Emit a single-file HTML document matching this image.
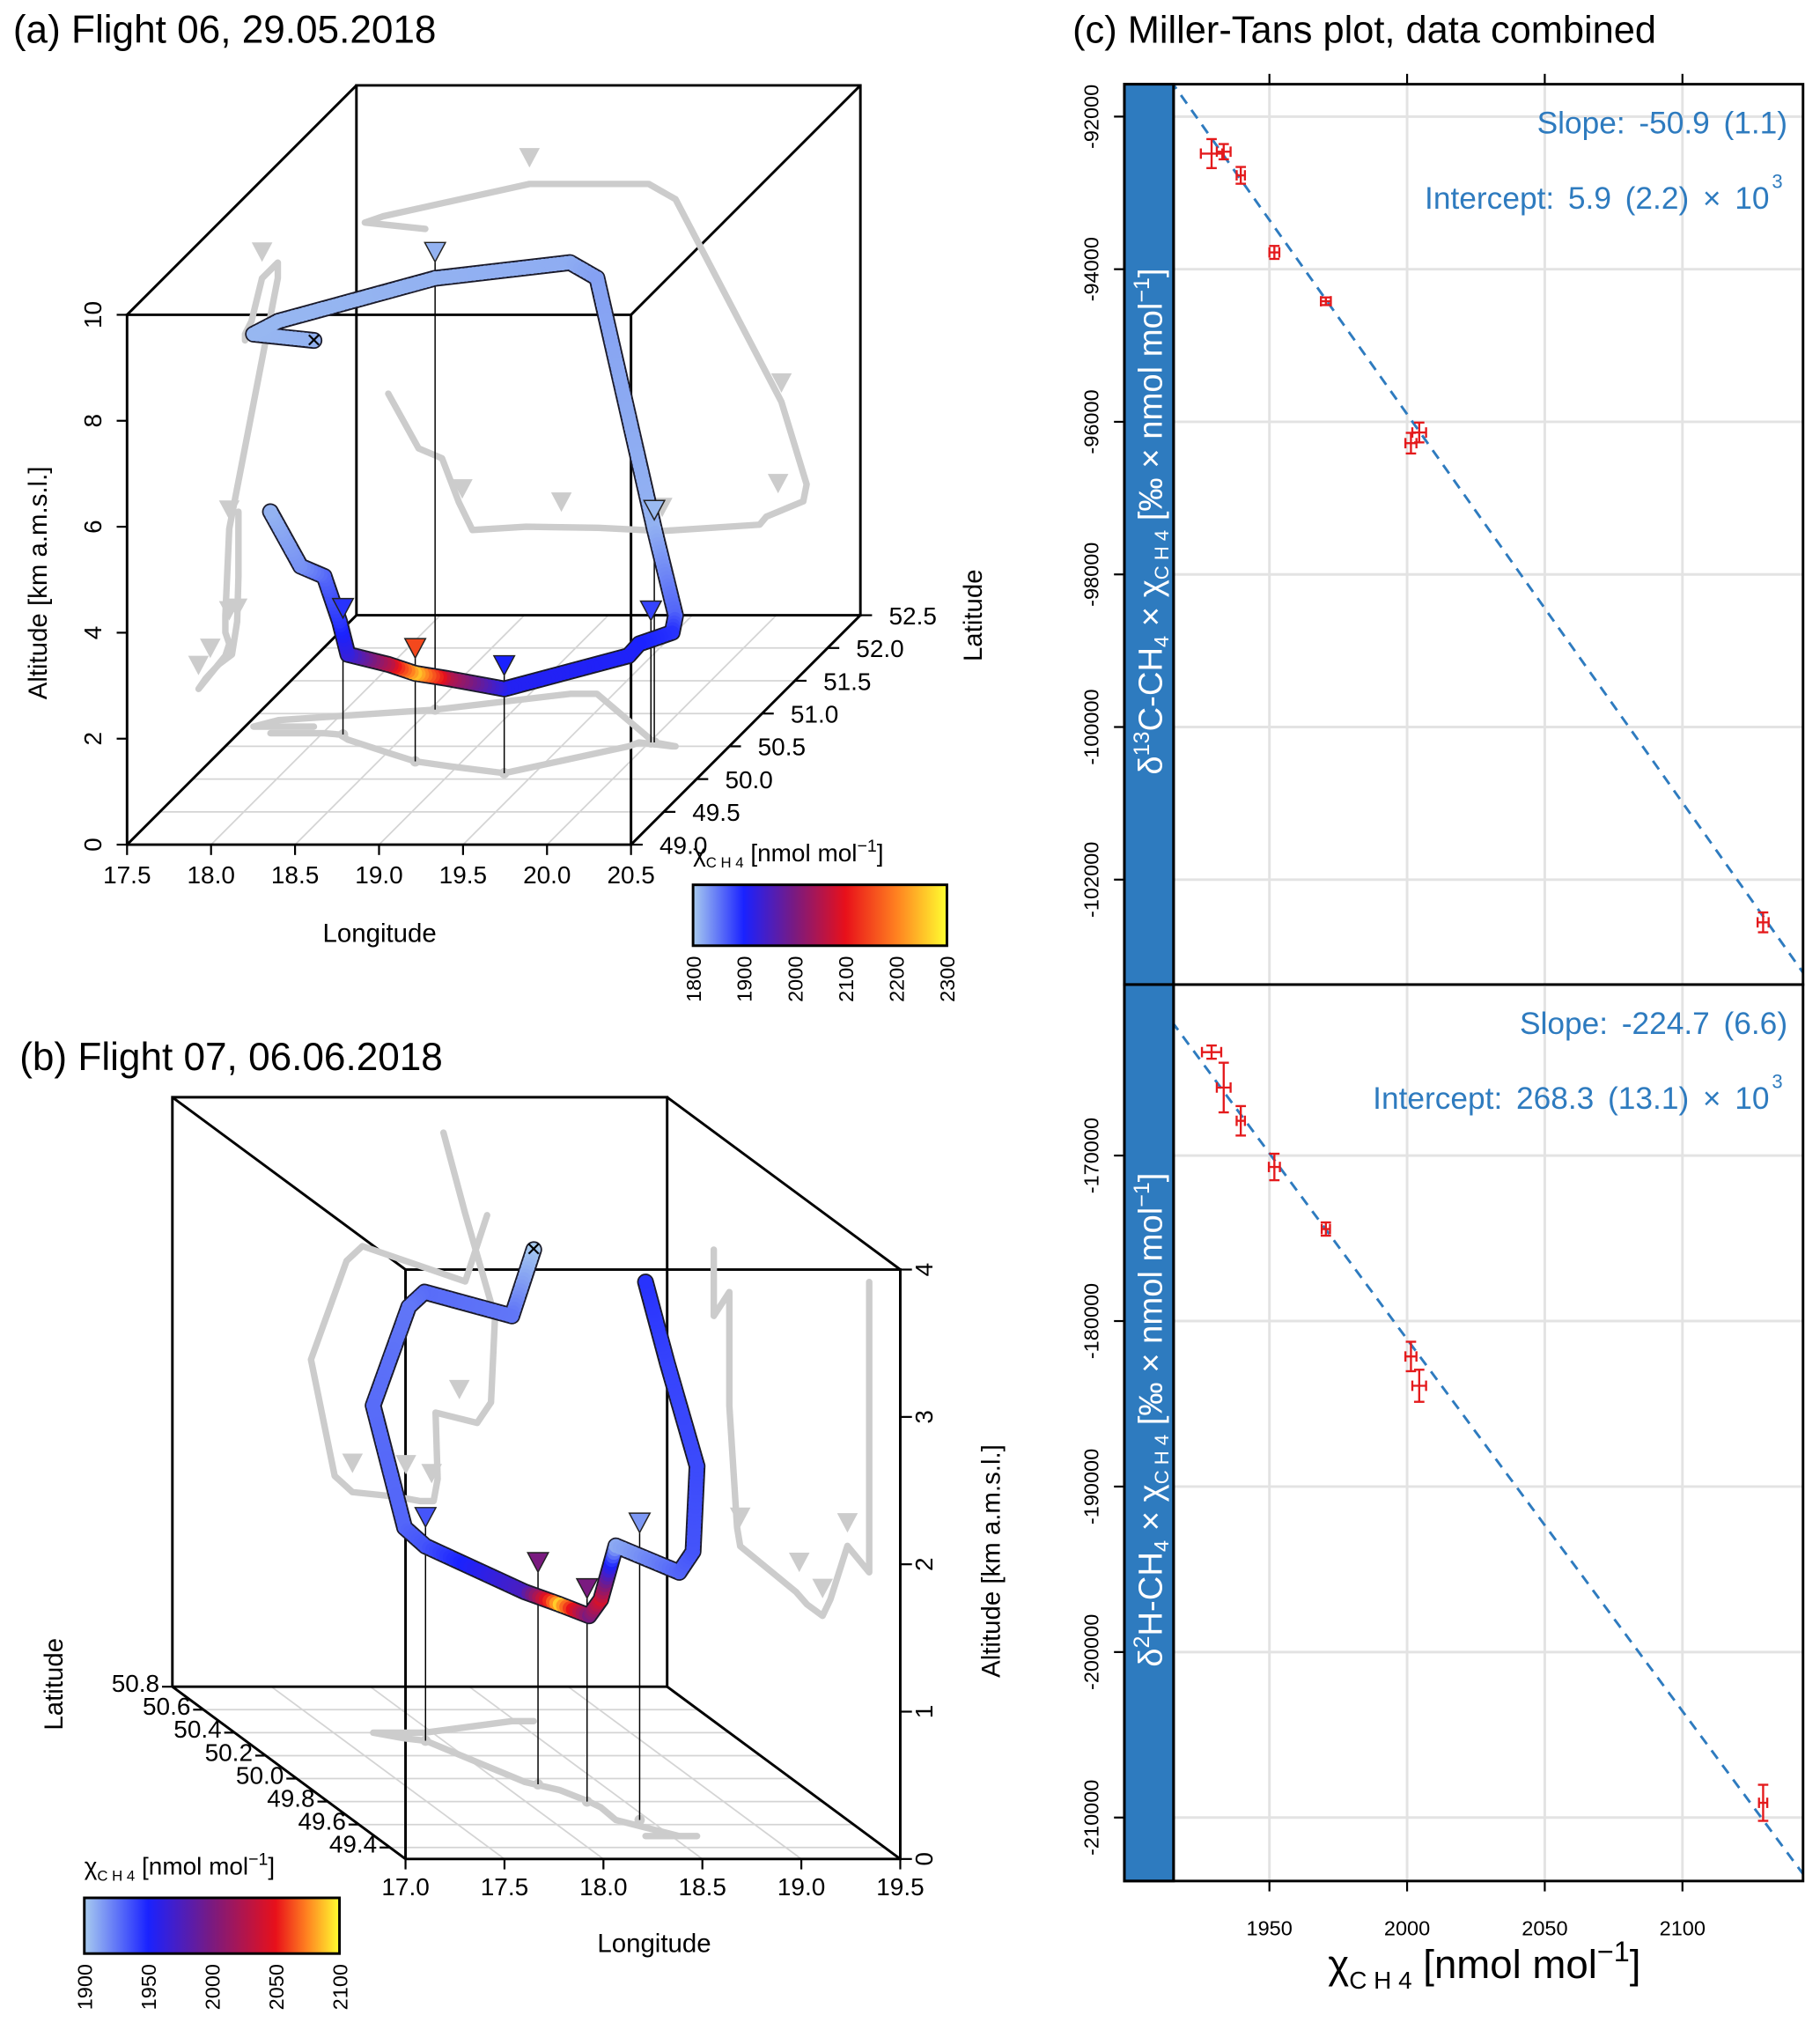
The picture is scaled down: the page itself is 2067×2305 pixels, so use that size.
<!DOCTYPE html>
<html><head><meta charset="utf-8">
<style>
html,body{margin:0;padding:0;background:#fff;}
svg{display:block;}
text{font-family:"Liberation Sans",sans-serif;}
</style></head>
<body>
<svg id="fig" width="2067" height="2305" viewBox="0 0 1405 1567" xmlns="http://www.w3.org/2000/svg">
<defs>
<linearGradient id="gradA" x1="0" x2="1" y1="0" y2="0">
<stop offset="0" stop-color="#a8cbef"/><stop offset="0.2" stop-color="#1a22ff"/><stop offset="0.4" stop-color="#7a1a80"/><stop offset="0.6" stop-color="#e8101a"/><stop offset="0.8" stop-color="#ff8020"/><stop offset="1" stop-color="#ffff30"/>
</linearGradient>
<linearGradient id="gradB" x1="0" x2="1" y1="0" y2="0">
<stop offset="0" stop-color="#a8cbef"/><stop offset="0.25" stop-color="#1a22ff"/><stop offset="0.5" stop-color="#7a1a80"/><stop offset="0.75" stop-color="#e8101a"/><stop offset="0.87" stop-color="#ff8020"/><stop offset="1" stop-color="#ffff30"/>
</linearGradient>
<clipPath id="clipU"><rect x="906" y="65" width="486" height="695"/></clipPath>
<clipPath id="clipL"><rect x="906" y="760" width="486" height="692"/></clipPath>
</defs>
<g id="layerA"></g>
<g id="layerB"></g>
<g id="layerC"></g>
</svg>
<script>
// ---------- Panel (a) data: Flight 06 ----------
const aLon=[17.91,17.55,17.66,18.53,19.24,19.40,20.03,20.18,20.16,19.94,19.90,19.32,18.94,18.72,18.51,18.19,18.11,18.01,17.87,17.69];
const aLat=[50.8,50.8,50.9,51.06,51.3,51.3,50.56,50.5,50.5,50.56,50.5,50.09,50.2,50.27,50.4,50.6,50.68,50.7,50.7,50.7];
const aAlt=[7.29,7.41,7.53,8.14,8.14,7.85,4.03,2.47,2.15,1.86,1.71,1.59,1.65,1.66,1.67,1.61,2.13,2.96,3.15,4.18];
const aCh4=[1815,1812,1812,1815,1818,1825,1815,1860,1890,1900,1905,1910,2050,2250,2060,1930,1890,1860,1835,1815];
const amLon=[18.13,18.72,19.32,20.01,20.03,18.53];
const amLat=[50.68,50.27,50.09,50.56,50.56,51.06];
const amAlt=[2.2,1.95,1.85,2.3,4.2,8.45];
const amCh4=[1890,2150,1900,1880,1810,1815];
const aLonTicks=[17.5,18.0,18.5,19.0,19.5,20.0,20.5];
const aLatTicks=[49.0,49.5,50.0,50.5,51.0,51.5,52.0,52.5];
const aAltTicks=[0,2,4,6,8,10];
const aCbTicks=[1800,1900,2000,2100,2200,2300];
// ---------- Panel (b) data: Flight 07 ----------
const bLon=[18.59,18.48,17.96,17.88,17.70,17.82,17.91,18.13,18.25,18.32,18.34,18.33,18.54,18.61,18.63,18.48,18.37];
const bLat=[50.5,50.5,50.4,50.4,50.4,50.35,50.33,49.97,49.9,49.8,49.75,49.64,49.5,49.5,49.5,49.5,49.5];
const bAlt=[3.20,2.75,2.99,2.89,2.22,1.43,1.32,1.29,1.26,1.26,1.41,1.86,1.79,1.93,2.51,3.21,3.76];
const bCh4=[1900,1925,1928,1925,1928,1930,1935,1975,2090,2000,2040,1910,1930,1935,1938,1940,1945];
const bmLon=[17.91,18.18,18.31,18.45];
const bmLat=[50.33,49.95,49.80,49.64];
const bmAlt=[1.45,1.44,1.38,1.95];
const bmCh4=[1935,2000,2000,1915];
const bLonTicks=[17.0,17.5,18.0,18.5,19.0,19.5];
const bLatTicks=[49.4,49.6,49.8,50.0,50.2,50.4,50.6,50.8];
const bAltTicks=[0,1,2,3,4];
const bCbTicks=[1900,1950,2000,2050,2100];
// ---------- Panel (c) data: Miller-Tans ----------
const chi=[1929,1933.4,1939.6,1951.8,1970.5,2001.4,2004.4,2129.3];
const chiErrU=[3.9,2.5,1.5,1.8,1.8,2,2.5,2];
const d13=[-92485,-92460,-92770,-93780,-94420,-96280,-96140,-102560];
const d13Err=[190,100,110,85,50,135,130,130];
const chiErrL=[3.5,2.5,1.5,2,1.5,2,2.5,1.5];
const d2h=[-163750,-165890,-167900,-170690,-174440,-182140,-183910,-209110];
const d2hErr=[400,1500,890,800,400,890,970,1090];
const fitU=[-50.9,5900];
const fitL=[-224.7,268300];
const cxTicks=[1950,2000,2050,2100];
const cyTicksU=[-92000,-94000,-96000,-98000,-100000,-102000];
const cyTicksL=[-170000,-180000,-190000,-200000,-210000];

const NS="http://www.w3.org/2000/svg";
function mk(parent,tag,attrs,text){const e=document.createElementNS(NS,tag);for(const k in attrs)e.setAttribute(k,attrs[k]);if(text!==undefined)e.textContent=text;parent.appendChild(e);return e;}
function hex(c){return [parseInt(c.slice(1,3),16),parseInt(c.slice(3,5),16),parseInt(c.slice(5,7),16)];}
function colorScale(v,lo,stops){const cols=["#a8cbef","#1a22ff","#7a1a80","#e8101a","#ff8020","#ffff30"];
  let i=0;while(i<stops.length-2&&v>stops[i+1])i++;
  let t=(v-stops[i])/(stops[i+1]-stops[i]);t=Math.max(0,Math.min(1,t));
  const a=hex(cols[i]),b=hex(cols[i+1]);return "rgb("+a.map((x,k)=>Math.round(x+(b[k]-x)*t)).join(",")+")";}
const stopsA=[1800,1900,2000,2100,2200,2300];
const stopsB=[1900,1950,2000,2050,2075,2100];

function pa(lon,lat,alt){return [98+(lon-17.5)*129.7+(lat-49)*50.6, 652-alt*40.9-(lat-49)*50.6];}
function pb(lon,lat,alt){return [313+(lon-17)*152.8-(lat-49.3)*120, 1435-alt*113.75-(lat-49.3)*88.67];}

function line(g,p,q,attrs){return mk(g,"line",Object.assign({x1:p[0],y1:p[1],x2:q[0],y2:q[1]},attrs));}
function poly(g,pts,attrs){return mk(g,"polyline",Object.assign({points:pts.map(p=>p[0].toFixed(1)+","+p[1].toFixed(1)).join(" "),fill:"none"},attrs));}
function tri(g,p,fill,stroke){const x=p[0],y=p[1];return mk(g,"polygon",{points:(x-8)+","+(y-15)+" "+(x+8)+","+(y-15)+" "+x+","+y,fill:fill,stroke:stroke,"stroke-width":1});}

function drawFlight(g,P,lon,lat,alt,ch4,mLon,mLat,mAlt,mCh4,walls,stops){
  const sh=mk(g,"g",{});
  
  
  walls.forEach(w=>{
    const pts=lon.map((_,i)=>P(w.lon!==undefined?w.lon:lon[i],w.lat!==undefined?w.lat:lat[i],w.alt!==undefined?w.alt:alt[i]));
    poly(sh,pts,{stroke:"#cccccc","stroke-width":5,"stroke-linejoin":"round","stroke-linecap":"round"});
    mLon.forEach((_,i)=>{const q=P(w.lon!==undefined?w.lon:mLon[i],w.lat!==undefined?w.lat:mLat[i],w.alt!==undefined?w.alt:mAlt[i]);
      if(w.alt===0){mk(sh,"circle",{cx:q[0],cy:q[1],r:4,fill:"#cccccc"});}else{tri(sh,q,"#cccccc","none");}});
  });
  mLon.forEach((_,i)=>{const t=P(mLon[i],mLat[i],mAlt[i]),f=P(mLon[i],mLat[i],0);
    const l=line(g,t,f,{stroke:"#000","stroke-width":1});
    
    });
  const pts=lon.map((_,i)=>P(lon[i],lat[i],alt[i]));
  const outline=poly(g,pts,{stroke:"#1a1a2a","stroke-width":13,"stroke-linejoin":"round","stroke-linecap":"round"});
  
  
  const tg=mk(g,"g",{});
  
  
  for(let i=0;i<pts.length-1;i++){
    const a=pts[i],b=pts[i+1];const len=Math.hypot(b[0]-a[0],b[1]-a[1]);const n=Math.max(2,Math.ceil(len/3));
    for(let k=0;k<=n;k++){const t=k/n;const v=ch4[i]+(ch4[i+1]-ch4[i])*t;
      mk(tg,"circle",{cx:(a[0]+(b[0]-a[0])*t).toFixed(1),cy:(a[1]+(b[1]-a[1])*t).toFixed(1),r:5.3,fill:colorScale(v,0,stops)});}
  }
  const s=pts[0];
  const cross=mk(g,"text",{x:s[0],y:s[1]+5,"text-anchor":"middle","font-size":15,fill:"#000"},"✕");
  
  
  mLon.forEach((_,i)=>{const q=P(mLon[i],mLat[i],mAlt[i]);const t=tri(g,q,colorScale(mCh4[i],0,stops),"#222");
    
    });
}

function subLabel(g,x,y,size,anchor,name,rot){
  const t=mk(g,"text",{x:x,y:y,"font-size":size,"text-anchor":anchor,fill:"#000",transform:rot||""});
  
  
  mk(t,"tspan",{},"χ");mk(t,"tspan",{"font-size":size*0.6,dy:size*0.25},"C H 4");
  mk(t,"tspan",{dy:-size*0.25}," [nmol mol");mk(t,"tspan",{"font-size":size*0.7,dy:-size*0.4},"−1");mk(t,"tspan",{dy:size*0.4},"]");
  return t;
}

// ================= Panel A =================
(function(){
  const g=document.getElementById("layerA");
  const P=pa;
  const t=mk(g,"text",{x:10,y:33,"font-size":30,fill:"#000"},"(a) Flight 06, 29.05.2018");
  
  
  const grid=mk(g,"g",{stroke:"#d4d4d4","stroke-width":1.2});
  
  
  aLonTicks.forEach(v=>line(grid,P(v,49,0),P(v,52.5,0),{}));
  aLatTicks.forEach(v=>line(grid,P(17.5,v,0),P(20.5,v,0),{}));
  const box=mk(g,"g",{stroke:"#000","stroke-width":2,fill:"none"});
  
  
  const L=[17.5,20.5],T=[49,52.5],A=[0,10];
  for(const la of T){poly(box,[P(17.5,la,0),P(20.5,la,0),P(20.5,la,10),P(17.5,la,10),P(17.5,la,0)],{});}
  for(const lo of L)for(const al of A){line(box,P(lo,49,al),P(lo,52.5,al),{});}
  drawFlight(g,P,aLon,aLat,aAlt,aCh4,amLon,amLat,amAlt,amCh4,[{alt:0},{lat:52.5},{lon:17.5}],stopsA);
  const ax=mk(g,"g",{});
  
  
  aLonTicks.forEach(v=>{const p=P(v,49,0);line(ax,p,[p[0],p[1]+8],{stroke:"#000","stroke-width":1.5});
    mk(ax,"text",{x:p[0],y:p[1]+30,"text-anchor":"middle","font-size":19},v.toFixed(1));});
  aLatTicks.forEach(v=>{const p=P(20.5,v,0);line(ax,p,[p[0]+9,p[1]],{stroke:"#000","stroke-width":1.5});
    mk(ax,"text",{x:p[0]+22,y:p[1]+7,"font-size":19},v.toFixed(1));});
  aAltTicks.forEach(v=>{const p=P(17.5,49,v);line(ax,p,[p[0]-8,p[1]],{stroke:"#000","stroke-width":1.5});
    mk(ax,"text",{x:p[0]-20,y:p[1],"text-anchor":"middle","font-size":19,transform:"rotate(-90 "+(p[0]-20)+" "+p[1]+")"},String(v));});
  mk(ax,"text",{x:293,y:727,"text-anchor":"middle","font-size":20},"Longitude");
  mk(ax,"text",{x:36,y:450,"text-anchor":"middle","font-size":20,transform:"rotate(-90 36 450)"},"Altitude [km a.m.s.l.]");
  mk(ax,"text",{x:758,y:475,"text-anchor":"middle","font-size":20,transform:"rotate(-90 758 475)"},"Latitude");
  const cb=mk(g,"g",{});
  
  
  subLabel(cb,535,665,19,"start","colorbar-a-title");
  mk(cb,"rect",{x:535,y:683,width:196,height:47,fill:"url(#gradA)",stroke:"#000","stroke-width":2});
  aCbTicks.forEach((v,i)=>{const x=535+(v-1800)/500*196;
    mk(cb,"text",{x:x+6,y:738,"text-anchor":"end","font-size":16,transform:"rotate(-90 "+(x+6)+" 738)"},String(v));});
})();

// ================= Panel B =================
(function(){
  const g=document.getElementById("layerB");
  const P=pb;
  const t=mk(g,"text",{x:15,y:826,"font-size":30,fill:"#000"},"(b) Flight 07, 06.06.2018");
  
  
  const grid=mk(g,"g",{stroke:"#d4d4d4","stroke-width":1.2});
  
  
  bLonTicks.forEach(v=>line(grid,P(v,49.3,0),P(v,50.8,0),{}));
  bLatTicks.forEach(v=>line(grid,P(17,v,0),P(19.5,v,0),{}));
  const box=mk(g,"g",{stroke:"#000","stroke-width":2,fill:"none"});
  
  
  for(const la of [49.3,50.8]){poly(box,[P(17,la,0),P(19.5,la,0),P(19.5,la,4),P(17,la,4),P(17,la,0)],{});}
  for(const lo of [17,19.5])for(const al of [0,4]){line(box,P(lo,49.3,al),P(lo,50.8,al),{});}
  drawFlight(g,P,bLon,bLat,bAlt,bCh4,bmLon,bmLat,bmAlt,bmCh4,[{alt:0},{lat:50.8},{lon:19.5}],stopsB);
  const ax=mk(g,"g",{});
  
  
  bLonTicks.forEach(v=>{const p=P(v,49.3,0);line(ax,p,[p[0],p[1]+8],{stroke:"#000","stroke-width":1.5});
    mk(ax,"text",{x:p[0],y:p[1]+28,"text-anchor":"middle","font-size":19},v.toFixed(1));});
  bLatTicks.forEach(v=>{const p=P(17,v,0);line(ax,p,[p[0]-8,p[1]],{stroke:"#000","stroke-width":1.5});
    mk(ax,"text",{x:p[0]-10,y:p[1]+4,"text-anchor":"end","font-size":19},v.toFixed(1));});
  bAltTicks.forEach(v=>{const p=P(19.5,49.3,v);line(ax,p,[p[0]+9,p[1]],{stroke:"#000","stroke-width":1.5});
    mk(ax,"text",{x:p[0]+25,y:p[1],"text-anchor":"middle","font-size":19,transform:"rotate(-90 "+(p[0]+25)+" "+p[1]+")"},String(v));});
  mk(ax,"text",{x:505,y:1507,"text-anchor":"middle","font-size":20},"Longitude");
  mk(ax,"text",{x:772,y:1205,"text-anchor":"middle","font-size":20,transform:"rotate(-90 772 1205)"},"Altitude [km a.m.s.l.]");
  mk(ax,"text",{x:48,y:1300,"text-anchor":"middle","font-size":20,transform:"rotate(-90 48 1300)"},"Latitude");
  const cb=mk(g,"g",{});
  
  
  subLabel(cb,65,1447,19,"start","colorbar-b-title");
  mk(cb,"rect",{x:65,y:1465,width:197,height:43,fill:"url(#gradB)",stroke:"#000","stroke-width":2});
  bCbTicks.forEach(v=>{const x=65+(v-1900)/200*197;
    mk(cb,"text",{x:x+6,y:1516,"text-anchor":"end","font-size":16,transform:"rotate(-90 "+(x+6)+" 1516)"},String(v));});
})();

// ================= Panel C =================
(function(){
  const g=document.getElementById("layerC");
  const xc=v=>980+(v-1950)*2.126;
  const yU=v=>90+(-92000-v)/2000*117.8;
  const yL=v=>892+(-170000-v)/10000*127.75;
  const t=mk(g,"text",{x:828,y:33,"font-size":29.5,fill:"#000"},"(c) Miller-Tans plot, data combined");
  
  
  const blue="#2e7bbf";
  function sub(y0,y1,yf,yticks,ys,errs,xerr,fit,clip,labelBase,slopeTxt,intTxt,name){
    const p=mk(g,"g",{});
    
    
    cxTicks.forEach(v=>line(p,[xc(v),y0],[xc(v),y1],{stroke:"#e3e3e3","stroke-width":2}));
    yticks.forEach(v=>line(p,[906,yf(v)],[1392,yf(v)],{stroke:"#e3e3e3","stroke-width":2}));
    const st=mk(p,"rect",{x:868,y:y0,width:38,height:y1-y0,fill:blue,stroke:"#000","stroke-width":2});
    
    
    yticks.forEach(v=>{const y=yf(v);line(p,[860,y],[868,y],{stroke:"#000","stroke-width":1.5});
      mk(p,"text",{x:848,y:y,"text-anchor":"middle","font-size":16,transform:"rotate(-90 848 "+y+")"},String(v));});
    const xa=1895,xb=2150;
    const fl=line(p,[xc(xa),yf(fit[0]*xa+fit[1])],[xc(xb),yf(fit[0]*xb+fit[1])],{stroke:blue,"stroke-width":2,"stroke-dasharray":"8,6","clip-path":"url(#"+clip+")"});
    
    
    chi.forEach((c,i)=>{const x=xc(c),y=yf(ys[i]);const e=mk(p,"g",{stroke:"#e41a1c","stroke-width":1.6});
      
      
      const yt=yf(ys[i]+errs[i]),yb=yf(ys[i]-errs[i]),xl=xc(c-xerr[i]),xr=xc(c+xerr[i]);
      line(e,[x,yt],[x,yb],{});line(e,[x-4,yt],[x+4,yt],{});line(e,[x-4,yb],[x+4,yb],{});
      line(e,[xl,y],[xr,y],{});line(e,[xl,y-4],[xl,y+4],{});line(e,[xr,y-4],[xr,y+4],{});});
    mk(p,"rect",{x:868,y:y0,width:524,height:y1-y0,fill:"none",stroke:"#000","stroke-width":2});
    line(p,[906,y0],[906,y1],{stroke:"#000","stroke-width":2});
    const s1=mk(p,"text",{x:1380,y:y0+38,"text-anchor":"end","font-size":24,fill:blue,"word-spacing":4},slopeTxt);
    
    
    const s2=mk(p,"text",{x:1366,y:y0+96,"text-anchor":"end","font-size":24,fill:blue,"word-spacing":4},intTxt);
    
    
    mk(p,"text",{x:1368,y:y0+80,"font-size":15,fill:blue},"3");
    const cxs=897,cy=(y0+y1)/2-10;
    const lb=mk(p,"text",{x:cxs,y:cy,"text-anchor":"middle","font-size":26,fill:"#fff",transform:"rotate(-90 "+cxs+" "+cy+")"});
    
    
    mk(lb,"tspan",{},"δ");mk(lb,"tspan",{"font-size":17,dy:-10},labelBase);mk(lb,"tspan",{dy:10},labelBase==="13"?"C-CH":"H-CH");
    mk(lb,"tspan",{"font-size":16,dy:5},"4");mk(lb,"tspan",{dy:-5}," × χ");mk(lb,"tspan",{"font-size":15,dy:5},"C H 4");
    mk(lb,"tspan",{dy:-5}," [‰ × nmol mol");mk(lb,"tspan",{"font-size":17,dy:-10},"−1");mk(lb,"tspan",{dy:10},"]");
  }
  sub(65,760,yU,cyTicksU,d13,d13Err,chiErrU,fitU,"clipU","13","Slope:  -50.9  (1.1)","Intercept:  5.9  (2.2)  × 10","upper-panel-d13c");
  sub(760,1452,yL,cyTicksL,d2h,d2hErr,chiErrL,fitL,"clipL","2","Slope:  -224.7  (6.6)","Intercept:  268.3  (13.1)  × 10","lower-panel-d2h");
  const ax=mk(g,"g",{});
  
  
  cxTicks.forEach(v=>{const x=xc(v);line(ax,[x,57],[x,65],{stroke:"#000","stroke-width":1.5});
    line(ax,[x,1452],[x,1460],{stroke:"#000","stroke-width":1.5});
    mk(ax,"text",{x:x,y:1494,"text-anchor":"middle","font-size":16},String(v));});
  const xt=mk(ax,"text",{x:1146,y:1527,"text-anchor":"middle","font-size":31});
  
  
  mk(xt,"tspan",{},"χ");mk(xt,"tspan",{"font-size":19,dy:8},"C H 4");mk(xt,"tspan",{dy:-8}," [nmol  mol");
  mk(xt,"tspan",{"font-size":22,dy:-13},"−1");mk(xt,"tspan",{dy:13},"]");
})();
</script>
</body></html>
